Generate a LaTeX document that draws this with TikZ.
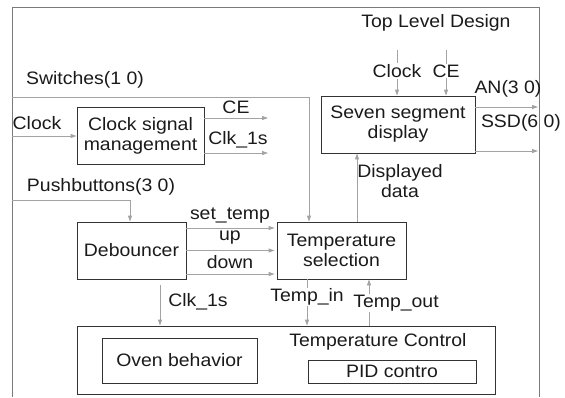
\documentclass[tikz,border=0pt]{standalone}
\usepackage{fontspec}
\setmainfont[FakeStretch=1.08]{Liberation Sans}
\usetikzlibrary{arrows.meta}
\definecolor{linegray}{HTML}{A3A3A3}
\definecolor{boxgray}{HTML}{333333}
\definecolor{framegray}{HTML}{7A7A7A}
\definecolor{textgray}{HTML}{1A1A1A}
\tikzset{
  blk/.style={draw=boxgray, line width=0.9pt, inner sep=0pt, align=center, text=textgray},
  lbl/.style={inner sep=1pt, text=textgray, align=center},
  wlbl/.style={lbl, fill=white},
  arr/.style={draw=linegray, line width=0.9pt, -{Triangle[length=6pt,width=4pt]}},
  ln/.style={draw=linegray, line width=0.9pt},
}
\begin{document}
\begin{tikzpicture}[x=1pt, y=-1pt, font=\fontsize{18}{20}\selectfont]
\useasboundingbox (0,0) rectangle (565,397);
% frame
\coordinate (fbl) at (12,397);
\coordinate (ftl) at (12,7);
\coordinate (ftr) at (539,7);
\coordinate (fbr) at (539,397);
\draw[draw=framegray, line width=0.9pt] (fbl) -- (ftl) -- (ftr) -- (fbr);
\node[lbl] (title) at (436,23) {Top Level Design};

% boxes
\node[blk, minimum width=127pt, minimum height=57pt] (csm) at (140.5,135.5) {Clock signal\\management};
\node[blk, minimum width=109pt, minimum height=57pt] (deb) at (131.5,250.5) {Debouncer};
\node[blk, minimum width=129pt, minimum height=57pt] (tsel) at (341.5,250.5) {Temperature\\selection};
\node[blk, minimum width=154pt, minimum height=57pt] (ssd) at (398,124.5) {Seven segment\\display};
\node[blk, minimum width=418pt, minimum height=68pt] (tc) at (286,360) {};
\node[lbl] (tclbl) at (378,342) {Temperature Control};
\node[blk, minimum width=155pt, minimum height=45pt] (oven) at (179.5,360.5) {Oven behavior};
\node[blk, minimum width=168pt, minimum height=23pt] (pid) at (392,371.5) {PID contro};

% Switches
\coordinate (sw0) at (12,97);
\coordinate (swc) at (309,97);
\draw[arr] (sw0) -- (swc) -- (tsel.north -| swc);
\node[lbl] (swl) at (85,80) {Switches(1 0)};

% Clock input
\coordinate (clkin) at (12,136);
\draw[arr] (clkin) -- (csm.west |- clkin);
\node[lbl] (clkl) at (37,123) {Clock};

% CE / Clk_1s outputs
\coordinate (ceout) at (268,118);
\coordinate (clkout) at (268,153);
\draw[arr] (csm.east |- ceout) -- (ceout);
\draw[arr] (csm.east |- clkout) -- (clkout);
\node[lbl] (cel) at (236,107) {CE};
\node[lbl] (clk1l) at (238,140) {Clk\_1s};

% Pushbuttons
\coordinate (pb0) at (12,200);
\coordinate (pbc) at (130,200);
\draw[arr] (pb0) -- (pbc) -- (deb.north -| pbc);
\node[lbl] (pbl) at (101,187) {Pushbuttons(3 0)};

% Debouncer outputs
\draw[arr] ([yshift=22.5pt]deb.east) -- ([yshift=22.5pt,xshift=-2pt]tsel.west);
\draw[arr] (deb.east) -- ([xshift=-2pt]tsel.west);
\draw[arr] ([yshift=-23.5pt]deb.east) -- ([yshift=-23.5pt,xshift=-2pt]tsel.west);
\node[lbl] (stl) at (230,216) {set\_temp};
\node[lbl] (upl) at (230,238) {up};
\node[lbl] (dnl) at (230,262) {down};

% Clk_1s down to Temperature Control
\coordinate (clkd) at (160,285);
\draw[arr] (clkd) -- (tc.north -| clkd);
\node[lbl] (clkdl) at (198,302) {Clk\_1s};

% Temp_in / Temp_out
\coordinate (tin) at (307,300);
\coordinate (tout) at (369,300);
\draw[arr] (tsel.south -| tin) -- (tc.north -| tin);
\draw[arr] (tc.north -| tout) -- (tsel.south -| tout);
\node[wlbl] (tinl) at (307,297) {Temp\_in};
\node[wlbl] (toutl) at (396,303) {Temp\_out};

% Displayed data
\coordinate (dd) at (357,190);
\draw[arr] (tsel.north -| dd) -- (ssd.south -| dd);
\node[lbl] (ddl) at (400,181) {Displayed\\data};

% Clock, CE into seven segment
\coordinate (ssclk) at (397,50);
\coordinate (ssce) at (446,50);
\draw[arr] (ssclk) -- (ssd.north -| ssclk);
\draw[arr] (ssce) -- (ssd.north -| ssce);
\node[wlbl] (ssclkl) at (397,71) {Clock};
\node[wlbl] (sscel) at (446,71) {CE};

% AN / SSD outputs
\coordinate (anout) at (538,107);
\coordinate (ssdout) at (538,151);
\draw[arr] (ssd.east |- anout) -- (anout);
\draw[arr] (ssd.east |- ssdout) -- (ssdout);
\node[lbl] (anl) at (508,89) {AN(3 0)};
\node[lbl] (ssdl) at (521,123) {SSD(6 0)};
\end{tikzpicture}
\end{document}
